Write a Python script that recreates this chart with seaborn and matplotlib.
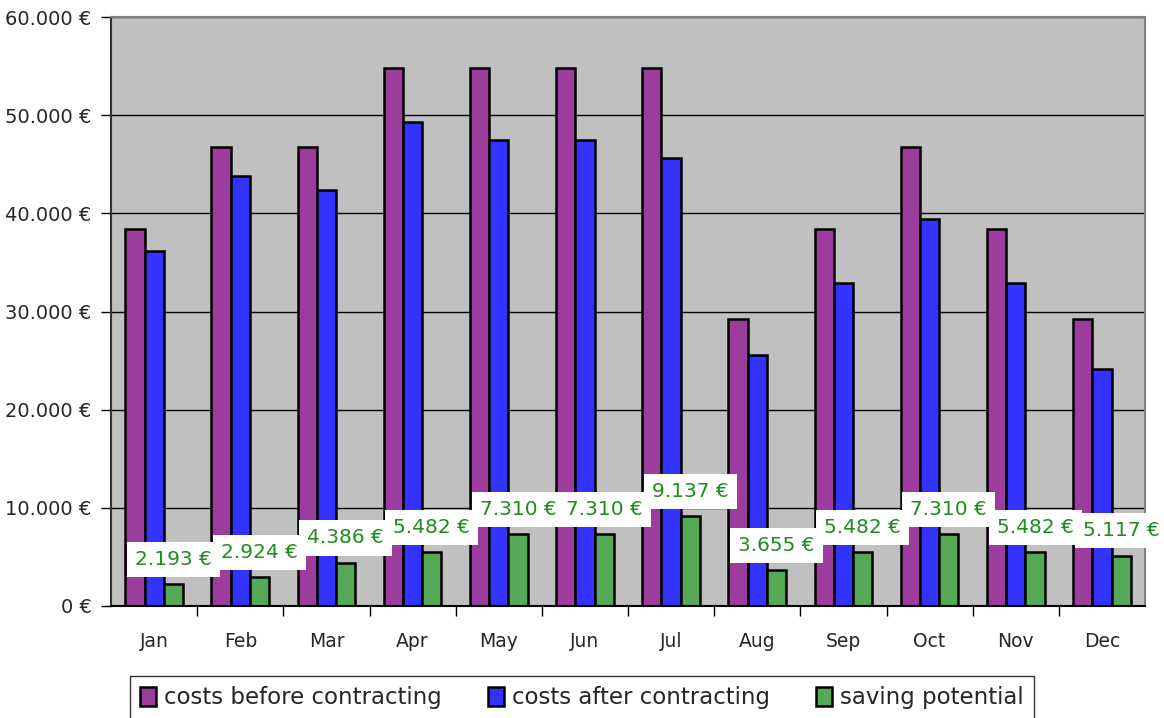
#!/usr/bin/env python3

import pandas as pd
import matplotlib.pyplot as plt
import seaborn as sns
from matplotlib.ticker import FuncFormatter, MultipleLocator


OUT_PNG = "out.png"

MONTHS = ["Jan", "Feb", "Mar", "Apr", "May", "Jun",
          "Jul", "Aug", "Sep", "Oct", "Nov", "Dec"]
COSTS_BEFORE = [38372, 46757, 46757, 54804, 54804, 54804,
                54804, 29236, 38372, 46757, 38372, 29236]
COSTS_AFTER = [36179, 43833, 42371, 49322, 47494, 47494,
               45667, 25581, 32890, 39447, 32890, 24119]
SAVINGS = [2193, 2924, 4386, 5482, 7310, 7310,
           9137, 3655, 5482, 7310, 5482, 5117]
SERIES = ["costs before contracting", "costs after contracting", "saving potential"]
COLORS = ["#9C3C9C", "#3333FF", "#55A855"]


def euro(v, pos=None):
    return f"{v:,.0f} €".replace(",", ".")


def main():
    df = pd.DataFrame({
        "month": MONTHS * 3,
        "series": [SERIES[0]] * 12 + [SERIES[1]] * 12 + [SERIES[2]] * 12,
        "value": COSTS_BEFORE + COSTS_AFTER + SAVINGS,
    })

    sns.set_style("ticks")
    plt.rcParams["font.family"] = ["DejaVu Sans"]

    fig = plt.figure(figsize=(11.64, 7.18), dpi=100)
    ax = fig.add_axes([0.0954, 0.156, 0.8883, 0.820])

    sns.barplot(
        data=df,
        x="month",
        y="value",
        hue="series",
        hue_order=SERIES,
        palette=COLORS,
        saturation=1,
        width=0.67,
        gap=0,
        edgecolor="black",
        linewidth=1.8,
        errorbar=None,
        ax=ax,
    )

    ax.set_facecolor("#C0C0C0")
    ax.set_ylim(0, 60000)
    ax.set_xlim(-0.5, 11.5)
    ax.yaxis.set_major_locator(MultipleLocator(10000))
    ax.yaxis.set_major_formatter(FuncFormatter(euro))
    ax.grid(axis="y", color="black", linewidth=1)
    ax.set_axisbelow(True)
    ax.set_xlabel("")
    ax.set_ylabel("")

    # ticks between months, labels centred
    ax.set_xticks([i + 0.5 for i in range(11)], minor=True)
    ax.tick_params(axis="x", which="major", length=0, pad=19, labelsize=13.5)
    ax.tick_params(axis="x", which="minor", length=7, width=1, color="black")
    ax.tick_params(axis="y", length=7, width=1, color="black", labelsize=14, pad=7)

    ax.spines["left"].set_color("#333333")
    ax.spines["bottom"].set_color("black")
    ax.spines["top"].set_visible(True)
    ax.spines["right"].set_visible(True)
    ax.spines["top"].set_color("#808080")
    ax.spines["right"].set_color("#808080")
    for s in ax.spines.values():
        s.set_linewidth(1.5)

    # value labels above saving bars
    for bar, val in zip(ax.containers[2], SAVINGS):
        ax.annotate(
            euro(val),
            xy=(bar.get_x() + bar.get_width() / 2, bar.get_height()),
            xytext=(0, 18),
            textcoords="offset points",
            ha="center",
            va="center",
            fontsize=14.5,
            color="#1E8C1E",
            bbox=dict(boxstyle="square,pad=0.4", fc="white", ec="none"),
            annotation_clip=False,
            zorder=5,
        )

    handles, labels = ax.get_legend_handles_labels()
    ax.get_legend().remove()
    leg = fig.legend(
        handles, labels,
        loc="upper center",
        bbox_to_anchor=(0.5, 0.0585),
        borderaxespad=0,
        ncol=3,
        fontsize=16.5,
        frameon=True,
        fancybox=False,
        edgecolor="black",
        handlelength=0.7,
        handleheight=0.9,
        handletextpad=0.35,
        columnspacing=2.0,
        borderpad=0.45,
    )
    leg.get_frame().set_linewidth(1)

    fig.savefig(OUT_PNG, dpi=100)
    plt.close(fig)


if __name__ == "__main__":
    main()
